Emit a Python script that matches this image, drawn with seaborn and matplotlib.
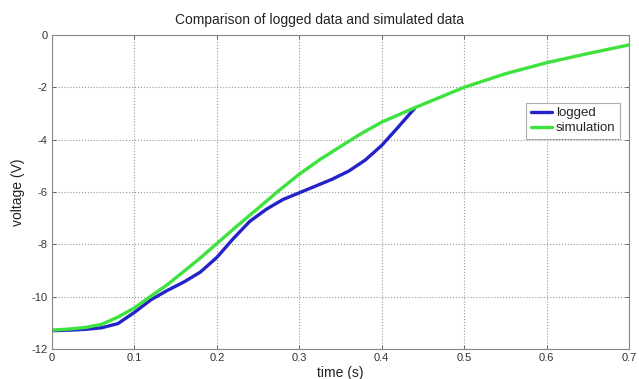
import numpy as np
import pandas as pd
import matplotlib
matplotlib.use("Agg")
import matplotlib.pyplot as plt
import seaborn as sns

# Data
logged_t = [0.0, 0.02, 0.04, 0.06, 0.08, 0.10, 0.12, 0.14, 0.16, 0.18, 0.20, 0.22,
            0.24, 0.26, 0.28, 0.30, 0.32, 0.34, 0.36, 0.38, 0.40, 0.42, 0.44]
logged_v = [-11.30, -11.28, -11.25, -11.19, -11.03, -10.60, -10.12, -9.76, -9.44, -9.06,
            -8.50, -7.78, -7.12, -6.66, -6.29, -6.03, -5.77, -5.51, -5.20, -4.78,
            -4.22, -3.52, -2.80]

sim_t = [0.0, 0.02, 0.04, 0.06, 0.08, 0.10, 0.12, 0.14, 0.16, 0.18, 0.20, 0.22,
         0.25, 0.275, 0.30, 0.325, 0.35, 0.375, 0.40, 0.44, 0.50, 0.55, 0.60, 0.65, 0.70]
sim_v = [-11.28, -11.24, -11.18, -11.06, -10.78, -10.43, -9.98, -9.54, -9.03, -8.52,
         -7.97, -7.42, -6.62, -5.95, -5.32, -4.76, -4.26, -3.77, -3.33, -2.78,
         -2.00, -1.48, -1.06, -0.71, -0.38]

series_names = ["logged", "simulation"]
series_colors = ["#2323c8", "#3ee23e"]

title = "Comparison of logged data and simulated data"
xlabel = "time (s)"
ylabel = "voltage (V)"
xticks = [0, 0.1, 0.2, 0.3, 0.4, 0.5, 0.6, 0.7]
xticklabels = ["0", "0.1", "0.2", "0.3", "0.4", "0.5", "0.6", "0.7"]
yticks = [-12, -10, -8, -6, -4, -2, 0]
yticklabels = ["-12", "-10", "-8", "-6", "-4", "-2", "0"]

df = pd.concat([
    pd.DataFrame({"t": logged_t, "v": logged_v, "series": series_names[0]}),
    pd.DataFrame({"t": sim_t, "v": sim_v, "series": series_names[1]}),
], ignore_index=True)

sns.set_style("white")
plt.rcParams["font.family"] = ["Liberation Sans", "DejaVu Sans"]

fig = plt.figure(figsize=(6.39, 3.79), dpi=100)
ax = fig.add_axes([52 / 639, 1 - 349 / 379, 577 / 639, 314 / 379])

sns.lineplot(data=df, x="t", y="v", hue="series", hue_order=series_names,
             palette=dict(zip(series_names, series_colors)), linewidth=2.4,
             sort=False, estimator=None, ax=ax)

ax.set_xlim(0, 0.7)
ax.set_ylim(-12, 0)
ax.set_xticks(xticks)
ax.set_xticklabels(xticklabels, fontsize=8, color="#333333")
ax.set_yticks(yticks)
ax.set_yticklabels(yticklabels, fontsize=8, color="#333333")
ax.tick_params(direction="in", length=3, width=0.6, colors="#555555",
               labelcolor="#333333", pad=3, top=True, right=True, bottom=True, left=True)
ax.grid(True, linestyle=":", color="#999999", linewidth=0.8)
for s in ax.spines.values():
    s.set_color("#888888")
    s.set_linewidth(0.8)

ax.set_title(title, fontsize=10, color="#222222", pad=8, x=0.4636)
ax.set_xlabel(xlabel, fontsize=10, color="#222222", labelpad=2)
ax.set_ylabel(ylabel, fontsize=10, color="#222222", labelpad=5)

leg = ax.legend(loc="upper right", bbox_to_anchor=(0.985, 0.785), fontsize=9.5,
                frameon=True, fancybox=False, handlelength=1.6, handletextpad=0.3,
                borderpad=0.35, labelspacing=0.2, borderaxespad=0)
leg.get_frame().set_edgecolor("#999999")
leg.get_frame().set_linewidth(0.8)
for line in leg.get_lines():
    line.set_linewidth(2.4)

fig.savefig("out.png", dpi=100)
